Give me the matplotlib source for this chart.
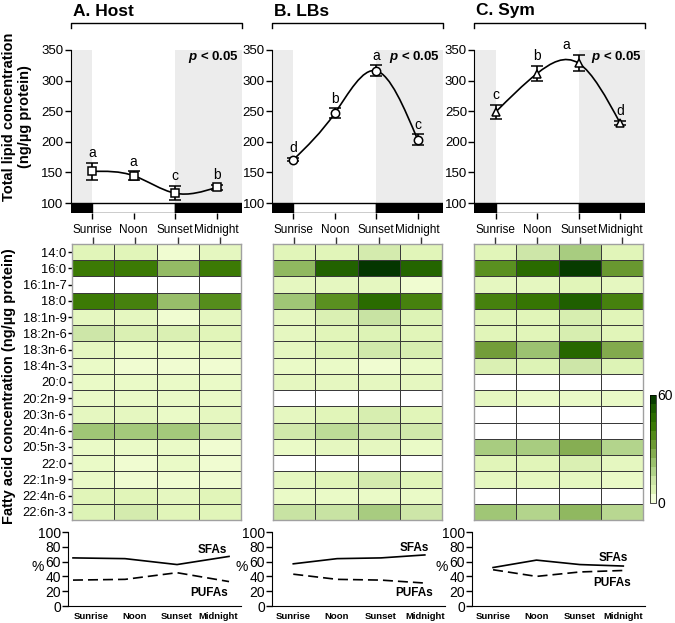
import numpy as np
import matplotlib
matplotlib.use('Agg')
import matplotlib.pyplot as plt
from matplotlib import font_manager
from matplotlib.colors import LinearSegmentedColormap
from matplotlib.path import Path
from matplotlib.patches import PathPatch, Rectangle

plt.rcParams['font.family'] = 'Liberation Sans'
plt.rcParams['mathtext.fontset'] = 'custom'
plt.rcParams['mathtext.it'] = 'Liberation Sans:italic:bold'
plt.rcParams['mathtext.rm'] = 'Liberation Sans:bold'

times = ['Sunrise', 'Noon', 'Sunset', 'Midnight']
titles = ['A. Host', 'B. LBs', 'C. Sym']

# total lipid concentration (ng/ug protein)
host_lipid = [151.6, 144.6, 116.0, 125.5]
host_err = [13.6, 7.0, 11.6, 3.5]
host_letters = ['a', 'a', 'c', 'b']
lbs_lipid = [170.7, 246.7, 316.0, 203.0]
lbs_err = [2.5, 8.0, 9.0, 9.0]
lbs_letters = ['d', 'b', 'a', 'c']
sym_lipid = [248.5, 311.6, 328.4, 230.7]
sym_err = [12.0, 12.0, 13.5, 3.0]
sym_letters = ['c', 'b', 'a', 'd']

fatty_acids = ['14:0', '16:0', '16:1n-7', '18:0', '18:1n-9', '18:2n-6', '18:3n-6',
               '18:4n-3', '20:0', '20:2n-9', '20:3n-6', '20:4n-6', '20:5n-3',
               '22:0', '22:1n-9', '22:4n-6', '22:6n-3']

# fatty acid concentration (ng/ug protein), rows = fatty_acids, cols = times
host_fa = [[6, 6, 3, 5], [42, 42, 24, 42], [0, 0, 0, 0], [42, 40, 23, 37],
           [5, 5, 3, 5], [12, 8, 8, 6], [5, 4, 4, 5], [4, 3, 3, 3],
           [4, 4, 4, 4], [4, 4, 4, 4], [5, 5, 4, 5], [21, 20, 20, 12],
           [4, 4, 4, 3], [4, 3, 4, 3], [4, 3, 3, 3], [6, 6, 5, 6], [7, 10, 6, 6]]
lbs_fa = [[6, 6, 10, 6], [25, 51, 59, 50], [5, 5, 5, 3], [21, 36, 48, 40],
          [5, 8, 13, 7], [5, 6, 7, 6], [5, 7, 11, 9], [4, 4, 3, 4],
          [5, 5, 5, 5], [0, 0, 0, 0], [5, 6, 9, 6], [11, 15, 12, 11],
          [4, 5, 5, 4], [0, 0, 0, 0], [5, 6, 10, 6], [4, 4, 4, 4], [13, 13, 19, 12]]
sym_fa = [[6, 12, 19, 6], [36, 48, 58, 33], [5, 5, 6, 5], [40, 44, 52, 40],
          [6, 6, 9, 6], [6, 6, 9, 6], [31, 22, 49, 28], [8, 7, 12, 7],
          [0, 0, 0, 0], [5, 4, 4, 4], [0, 0, 0, 0], [0, 0, 0, 0],
          [19, 19, 27, 17], [6, 6, 8, 5], [5, 5, 5, 4], [0, 0, 0, 0], [21, 17, 25, 16]]

# SFA / PUFA percentages
host_sfa = [65, 64, 56, 67]
host_pufa = [35, 36, 45, 33]
lbs_sfa = [57, 64, 65, 69]
lbs_pufa = [43, 36, 35, 31]
sym_sfa = [52, 62, 56, 54]
sym_pufa = [49, 40, 46, 48]

lipids = [host_lipid, lbs_lipid, sym_lipid]
errs = [host_err, lbs_err, sym_err]
letters = [host_letters, lbs_letters, sym_letters]
markers = ['s', 'o', '^']
fas = [host_fa, lbs_fa, sym_fa]
sfas = [host_sfa, lbs_sfa, sym_sfa]
pufas = [host_pufa, lbs_pufa, sym_pufa]

cmap = LinearSegmentedColormap.from_list('fa', [
    (0, '#ffffff'), (3/60, '#effcce'), (6/60, '#e0f5b8'), (12/60, '#cde6a8'),
    (19/60, '#a8cc80'), (25/60, '#90b860'), (30/60, '#78a040'), (36/60, '#5a9020'),
    (42/60, '#3c7a05'), (48/60, '#2a6b00'), (52/60, '#1f5f00'), (1.0, '#003000')])

# condensed font for the small tick labels, if there is one
names = {f.name for f in font_manager.fontManager.ttflist}
if 'Liberation Sans Narrow' in names:
    narrow, narrow_size = 'Liberation Sans Narrow', 7.5
else:
    narrow, narrow_size = 'Liberation Sans', 6.8


def spline_path(x, y):
    # natural cubic spline through the points, drawn as bezier segments
    n = len(y)
    A = np.zeros((n, n))
    b = np.zeros(n)
    A[0, 0] = A[-1, -1] = 1
    for i in range(1, n - 1):
        A[i, i - 1:i + 2] = [1, 4, 1]
        b[i] = 6 * (y[i - 1] - 2 * y[i] + y[i + 1])
    M = np.linalg.solve(A, b)
    verts = [(x[0], y[0])]
    codes = [Path.MOVETO]
    for i in range(n - 1):
        s = y[i + 1] - y[i]
        d0 = s - (2 * M[i] + M[i + 1]) / 6
        d1 = s + (M[i] + 2 * M[i + 1]) / 6
        verts += [(x[i] + 1/3, y[i] + d0 / 3), (x[i + 1] - 1/3, y[i + 1] - d1 / 3), (x[i + 1], y[i + 1])]
        codes += [Path.CURVE4] * 3
    return Path(verts, codes)


W, H = 675, 623
fig = plt.figure(figsize=(W / 100, H / 100), dpi=100)


def fax(x0, y0, x1, y1):
    return fig.add_axes([x0 / W, 1 - y1 / H, (x1 - x0) / W, (y1 - y0) / H])


top_left = [70.5, 271.7, 474]
heat_left = [72, 273, 474]
bot_left = [68, 272, 472]
bot_xlims = [(-0.096, 3.23), (-0.485, 3.46), (-0.485, 3.5)]
bot_ticks = [[0.35, 1.19, 2.0, 2.79], [0, 1, 2, 3], [0, 1, 2, 3]]
sfa_pos = [((2.67, 75.7), (2.62, 17.6)), ((2.77, 78.4), (2.75, 17.6)), ((2.77, 64.9), (2.75, 31))]

x = np.arange(4)
xl = (-0.52, 3.6)
ybot = 100 - 10 / 153 * 250
gray = '#ececec'

for k in range(3):
    # ---- top: total lipid ----
    ax = fax(top_left[k], 50, top_left[k] + 171, 213)
    ax.set_xlim(*xl)
    ax.set_ylim(ybot, 350)
    ax.fill_between([xl[0], 0], 100, 350, color=gray, lw=0)
    ax.fill_between([2, xl[1]], 100, 350, color=gray, lw=0)
    ax.add_patch(Rectangle((xl[0], ybot), -xl[0], 100 - ybot, fc='black', ec='black', lw=1))
    ax.add_patch(Rectangle((0, ybot), 2, 100 - ybot, fc='white', ec='black', lw=1))
    ax.add_patch(Rectangle((2, ybot), xl[1] - 2, 100 - ybot, fc='black', ec='black', lw=1))
    ax.add_patch(PathPatch(spline_path(x, lipids[k]), fc='none', ec='black', lw=1.2, zorder=3))
    ax.errorbar(x, lipids[k], yerr=errs[k], fmt=markers[k], mfc='white', mec='black', ms=6,
                mew=1.1, ecolor='black', elinewidth=1.2, capsize=4, capthick=1.2, zorder=4)
    for i in range(4):
        dx = -9 if (k == 2 and i == 2) else 0
        ax.annotate(letters[k][i], (x[i], lipids[k][i] + errs[k][i]), xytext=(dx, 2),
                    textcoords='offset points', ha='center', va='bottom', fontsize=10,
                    annotation_clip=False)
    ax.text(0.985, 0.955, r'$\it{p}$ < 0.05', transform=ax.transAxes, ha='right', va='center',
            fontsize=9.5, fontweight='bold')
    for s in ['top', 'right', 'bottom']:
        ax.spines[s].set_visible(False)
    ax.spines['left'].set_bounds(100, 350)
    ax.set_yticks(range(100, 351, 50))
    ax.set_xticks(x)
    ax.set_xticklabels(times)
    ax.tick_params(axis='y', labelsize=9.5, length=4, width=1, pad=1)
    ax.tick_params(axis='x', labelsize=8.5, length=4, width=1, pad=4)
    # bracket and title
    ax.plot([0, 0, 1, 1], [1.135, 1.166, 1.166, 1.135], transform=ax.transAxes,
            color='black', lw=1, clip_on=False)
    fig.text((top_left[k] + 2.5) / W, 1 - 11 / H, titles[k], fontsize=12.5, fontweight='bold',
             ha='left', va='center')

    # ---- middle: heatmap ----
    hx = fax(heat_left[k], 244, heat_left[k] + 169, 520)
    mesh = hx.pcolormesh(np.array(fas[k]), cmap=cmap, vmin=0, vmax=60,
                         edgecolors='#3a3a3a', linewidth=0.6)
    hx.set_xlim(0, 4)
    hx.set_ylim(len(fatty_acids), 0)
    hx.xaxis.tick_top()
    hx.set_xticks(x + 0.5)
    hx.set_xticklabels([])
    hx.tick_params(axis='x', length=5, width=1, color='#333333')
    hx.set_yticks(np.arange(len(fatty_acids)) + 0.5)
    if k == 0:
        hx.set_yticklabels(fatty_acids, fontsize=9.3)
        hx.tick_params(axis='y', length=3, width=1, pad=1)
    else:
        hx.set_yticks([])
    for s in hx.spines.values():
        s.set_color('#a0a0a0')
        s.set_linewidth(1)

    # ---- bottom: SFA / PUFA ----
    bx = fax(bot_left[k], 532, bot_left[k] + 173, 606)
    bx.plot(x, sfas[k], color='black', lw=1.2)
    bx.plot(x, pufas[k], color='black', lw=1.2, ls='--', dashes=(6, 3))
    bx.set_xlim(*bot_xlims[k])
    bx.set_ylim(0, 100)
    bx.set_yticks(range(0, 101, 20))
    bx.set_xticks(bot_ticks[k])
    bx.set_xticklabels(times, fontsize=narrow_size, fontweight='bold', family=narrow)
    bx.tick_params(axis='x', length=0, pad=4)
    bx.tick_params(axis='y', labelsize=10, length=4, width=1, pad=1)
    for s in ['top', 'right']:
        bx.spines[s].set_visible(False)
    bx.text(*sfa_pos[k][0], 'SFAs', ha='center', va='center', fontsize=8.5, fontweight='bold')
    bx.text(*sfa_pos[k][1], 'PUFAs', ha='center', va='center', fontsize=8.5, fontweight='bold')
    fig.text((bot_left[k] - 30) / W, 1 - 567 / H, '%', fontsize=10, ha='center', va='center')

# colour bar
cax = fax(650, 395, 656, 503)
cb = fig.colorbar(mesh, cax=cax, boundaries=np.linspace(0, 60, 13), ticks=[0, 60])
cb.ax.tick_params(length=0, labelsize=10, pad=1)
cb.outline.set_linewidth(0.5)

fig.text(17 / W, 1 - 117 / H, 'Total lipid concentration\n(ng/µg protein)', rotation=90,
         ha='center', va='center', fontsize=10.5, fontweight='bold', linespacing=1.15)
fig.text(9 / W, 1 - 386 / H, 'Fatty acid concentration (ng/µg protein)', rotation=90,
         ha='center', va='center', fontsize=10.5, fontweight='bold')

fig.savefig('out.png', dpi=100)
